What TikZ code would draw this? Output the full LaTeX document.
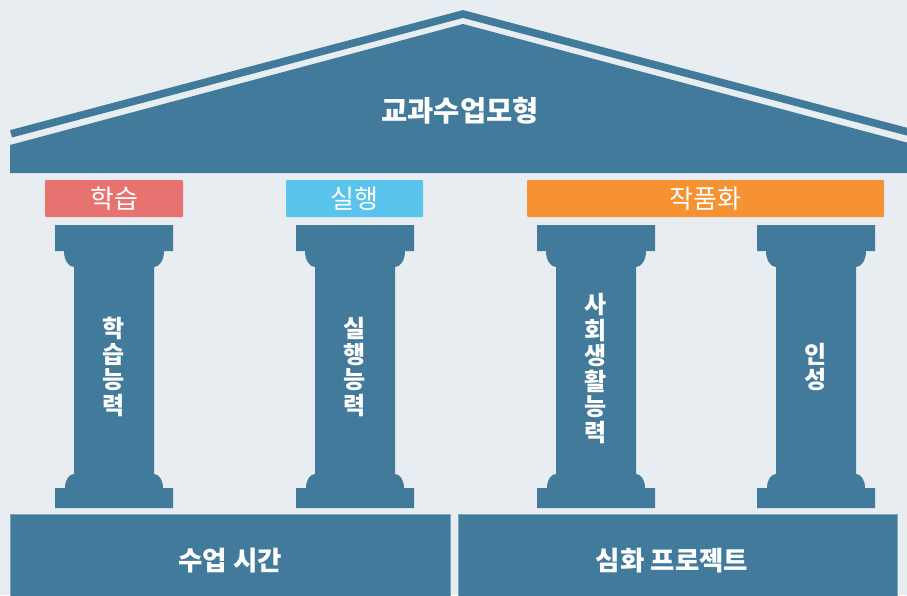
\documentclass[tikz,border=0pt]{standalone}
\usepackage{fontspec}
\newfontfamily\kr{Noto Sans CJK KR}
\definecolor{bg}{HTML}{E8EDF1}
\definecolor{steel}{HTML}{427A9C}
\definecolor{steeledge}{HTML}{7FA6C0}
\definecolor{lred}{HTML}{E87270}
\definecolor{lcyan}{HTML}{5AC4EC}
\definecolor{lorange}{HTML}{F69232}
\tikzset{
  roofbody/.style={fill=steel},
  roofstrip/.style={draw=steel, line width=7.6pt, line cap=butt, line join=miter},
  colshape/.style={fill=steel},
  labelbox/.style={rounded corners=1pt, minimum height=37pt, inner sep=0pt, text=white,
                   font=\kr\fontsize{26}{28}\selectfont},
  basebox/.style={fill=steel, draw=steeledge, line width=0.7pt},
  coltext/.style={text=white, align=center, inner sep=0pt,
                  font=\kr\bfseries\fontsize{24}{25.6}\selectfont},
  bigtext/.style={text=white, font=\kr\bfseries\fontsize{26.5}{30}\selectfont},
}
\begin{document}
\begin{tikzpicture}[x=1pt,y=-1pt]
\path[use as bounding box, fill=bg] (0,0) rectangle (907,595);
\clip (0,0) rectangle (907,595);
% roof
\fill[roofbody] (10,173) -- (10,145) -- (463,24) -- (916,145) -- (916,173) -- cycle;
\draw[roofstrip] (11,133.8) -- (463,14) -- (915,133.8);
\node[bigtext, font=\kr\bfseries\fontsize{28.5}{32}\selectfont] (title) at (460,111) {교과수업모형};
% labels
\node[labelbox, fill=lred, minimum width=138pt] (lab1) at (114,198.5) {학습};
\node[labelbox, fill=lcyan, minimum width=137pt] (lab2) at (354.5,198.5) {실행};
\node[labelbox, fill=lorange, minimum width=357pt] (lab3) at (705.5,198.5) {작품화};
% columns
\foreach \cx in {114,355,596,816}{
  \fill[colshape]
    (\cx-59,225) -- (\cx+59,225) -- (\cx+59,251) -- (\cx+50,251)
    .. controls (\cx+50,260) and (\cx+45.5,267) .. (\cx+40,267)
    -- (\cx+40,474)
    .. controls (\cx+45,474) and (\cx+49,480) .. (\cx+49,488)
    -- (\cx+59,488) -- (\cx+59,508) -- (\cx-59,508) -- (\cx-59,488) -- (\cx-49,488)
    .. controls (\cx-49,480) and (\cx-45,474) .. (\cx-40,474)
    -- (\cx-40,267)
    .. controls (\cx-45.5,267) and (\cx-50,260) .. (\cx-50,251)
    -- (\cx-59,251) -- cycle;
}
\node[coltext] (t1) at (114,367) {학\\습\\능\\력};
\node[coltext] (t2) at (355,367) {실\\행\\능\\력};
\node[coltext] (t3) at (596,368.5) {사\\회\\생\\활\\능\\력};
\node[coltext] (t4) at (816,367) {인\\성};
% base boxes
\draw[basebox] (10,514) rectangle (450,600);
\draw[basebox] (458,514) rectangle (897,600);
\node[bigtext] (b1) at (230,561) {수업 시간};
\node[bigtext] (b2) at (672,561) {심화 프로젝트};
\end{tikzpicture}
\end{document}
